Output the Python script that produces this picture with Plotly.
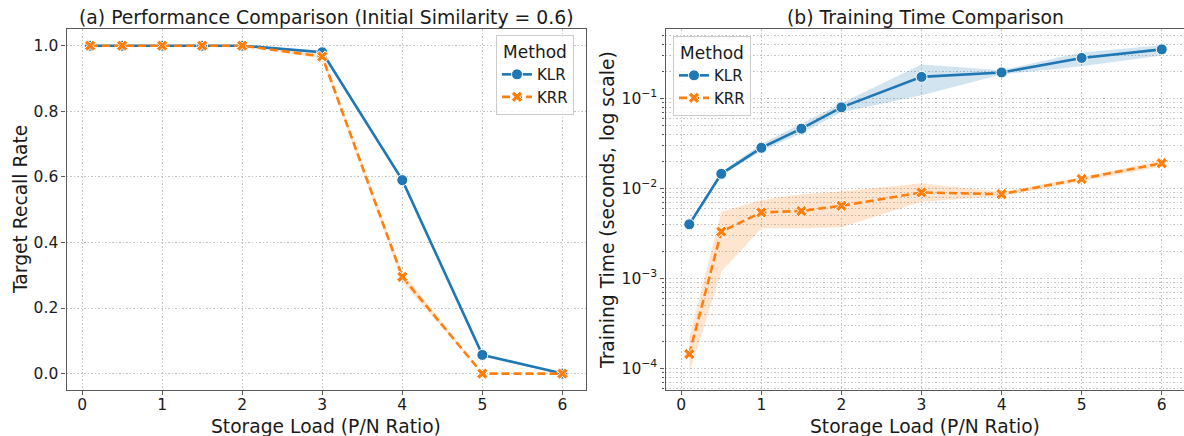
import plotly.graph_objects as go

# ---------------- data ----------------
loads = [0.1, 0.5, 1, 1.5, 2, 3, 4, 5, 6]
methods = ["KLR", "KRR"]

klr_recall = [1.0, 1.0, 1.0, 1.0, 1.0, 0.98, 0.59, 0.057, 0.0]
krr_recall = [1.0, 1.0, 1.0, 1.0, 1.0, 0.967, 0.295, 0.0, 0.0]
klr_recall_lo = [1.0, 1.0, 1.0, 1.0, 1.0, 0.975, 0.584, 0.052, 0.0]
klr_recall_hi = [1.0, 1.0, 1.0, 1.0, 1.0, 0.985, 0.597, 0.062, 0.0]
krr_recall_lo = [1.0, 1.0, 1.0, 1.0, 1.0, 0.960, 0.280, 0.0, 0.0]
krr_recall_hi = [1.0, 1.0, 1.0, 1.0, 1.0, 0.974, 0.310, 0.0, 0.0]

klr_time = [0.00398, 0.0145, 0.0282, 0.046, 0.0794, 0.173, 0.194, 0.281, 0.35]
klr_time_lo = [0.0038, 0.0138, 0.026, 0.041, 0.070, 0.108, 0.184, 0.227, 0.30]
klr_time_hi = [0.0042, 0.0152, 0.031, 0.052, 0.088, 0.237, 0.205, 0.324, 0.39]
krr_time = [0.000144, 0.0033, 0.0054, 0.0056, 0.0064, 0.0090, 0.0086, 0.0127, 0.019]
krr_time_lo = [0.000088, 0.00118, 0.0036, 0.0036, 0.0037, 0.0071, 0.0082, 0.0120, 0.0175]
krr_time_hi = [0.000217, 0.0055, 0.0074, 0.0086, 0.0092, 0.0114, 0.0091, 0.0133, 0.0205]

recall_ticks = [0.0, 0.2, 0.4, 0.6, 0.8, 1.0]
x_ticks = [0, 1, 2, 3, 4, 5, 6]
time_ticks = [1e-4, 1e-3, 1e-2, 1e-1]
time_tick_text = ["10<sup>−4</sup>", "10<sup>−3</sup>", "10<sup>−2</sup>", "10<sup>−1</sup>"]

# ---------------- styling ----------------
W, H = 1184, 436
BLUE = "#1f77b4"
ORANGE = "#ff7f0e"
BLUE_BAND = "rgba(31,119,180,0.2)"
ORANGE_BAND = "rgba(255,127,14,0.2)"
FONT = "DejaVu Sans"
TXT = "#1a1a1a"
SPINE = "#5a5a5a"
GRID = "#c4c4c4"
GRIDDASH = "1.5px,2px"
DASH = "8px,4px"


def px(x):
    return x / W


def py(y):
    return 1 - y / H


fig = go.Figure()


def band(x, lo, hi, color, xa, ya):
    fig.add_trace(go.Scatter(x=x, y=hi, mode="lines", line=dict(width=0), hoverinfo="skip",
                             showlegend=False, xaxis=xa, yaxis=ya))
    fig.add_trace(go.Scatter(x=x, y=lo, mode="lines", line=dict(width=0), fill="tonexty",
                             fillcolor=color, hoverinfo="skip", showlegend=False, xaxis=xa, yaxis=ya))


def series(x, y, name, color, dash, symbol, size, xa, ya, legend):
    fig.add_trace(go.Scatter(
        x=x, y=y, name=name, mode="lines+markers",
        line=dict(color=color, width=2.6, dash=dash),
        marker=dict(symbol=symbol, size=size, color=color, line=dict(color="white", width=1)),
        xaxis=xa, yaxis=ya, legend=legend))


# left panel
band(loads, klr_recall_lo, klr_recall_hi, BLUE_BAND, "x", "y")
band(loads, krr_recall_lo, krr_recall_hi, ORANGE_BAND, "x", "y")
series(loads, klr_recall, methods[0], BLUE, "solid", "circle", 11, "x", "y", "legend")
series(loads, krr_recall, methods[1], ORANGE, DASH, "x", 10, "x", "y", "legend")

# right panel
band(loads, klr_time_lo, klr_time_hi, BLUE_BAND, "x2", "y2")
band(loads, krr_time_lo, krr_time_hi, ORANGE_BAND, "x2", "y2")
series(loads, klr_time, methods[0], BLUE, "solid", "circle", 11, "x2", "y2", "legend2")
series(loads, krr_time, methods[1], ORANGE, DASH, "x", 10, "x2", "y2", "legend2")

YDOM = [py(390), py(29.3)]
tickfont = dict(family=FONT, size=15.5, color=TXT)

common_axis = dict(showline=True, linecolor=SPINE, linewidth=1.3, ticks="outside", ticklen=4,
                   tickcolor=SPINE, tickwidth=1.2, showgrid=True, gridcolor=GRID, griddash=GRIDDASH,
                   gridwidth=1, zeroline=False, tickfont=tickfont)

legend_common = dict(bgcolor="rgba(255,255,255,0.8)", bordercolor="#cccccc", borderwidth=1,
                     font=dict(family=FONT, size=15, color=TXT),
                     title=dict(text="Method", side="top center", font=dict(family=FONT, size=17, color=TXT)),
                     xanchor="left", yanchor="top", itemwidth=30, tracegroupgap=0,
                     traceorder="normal")

fig.update_layout(
    width=W, height=H,
    margin=dict(l=0, r=0, t=0, b=0),
    paper_bgcolor="white", plot_bgcolor="white",
    font=dict(family=FONT, color=TXT),
    xaxis=dict(domain=[px(66.5), px(586)], range=[-0.195, 6.295], tickvals=x_ticks,
               mirror=True, anchor="y", ticklabelstandoff=-4, **common_axis),
    yaxis=dict(domain=YDOM, range=[-0.05, 1.05], tickvals=recall_ticks, tickformat=".1f",
               mirror=True, anchor="x", **common_axis),
    xaxis2=dict(domain=[px(665.5), 1.0], range=[-0.197, 6.278], tickvals=x_ticks,
                mirror=True, anchor="y2", ticklabelstandoff=-4, **common_axis),
    yaxis2=dict(domain=YDOM, type="log", range=[-4.241, -0.233], tickvals=time_ticks,
                ticktext=time_tick_text, anchor="x2",
                minor=dict(dtick="D1", showgrid=True, gridcolor=GRID, griddash=GRIDDASH, gridwidth=1,
                           ticks="outside", ticklen=2, tickcolor=SPINE),
                **common_axis),
    legend=dict(x=px(496), y=py(35), **legend_common),
    legend2=dict(x=px(673), y=py(36), **legend_common),
    showlegend=True,
)

ann_font_title = dict(family=FONT, size=18.8, color=TXT)
ann_font_label = dict(family=FONT, size=18.7, color=TXT)
annotations = [
    dict(text="(a) Performance Comparison (Initial Similarity = 0.6)", x=px(326), y=py(17.5),
         font=ann_font_title),
    dict(text="(b) Training Time Comparison", x=px(925), y=py(17.5), font=ann_font_title),
    dict(text="Storage Load (P/N Ratio)", x=px(326), y=py(426), font=ann_font_label),
    dict(text="Storage Load (P/N Ratio)", x=px(925), y=py(426), font=ann_font_label),
    dict(text="Target Recall Rate", x=px(20), y=py(210), textangle=-90, font=ann_font_label),
    dict(text="Training Time (seconds, log scale)", x=px(607), y=py(210), textangle=-90,
         font=ann_font_label),
]
for a in annotations:
    a.update(xref="paper", yref="paper", showarrow=False, xanchor="center", yanchor="middle")
fig.update_layout(annotations=annotations)

fig.write_html("out.html", config={"displayModeBar": False},
               post_script="document.body.style.margin='0';document.body.style.overflow='hidden';")
